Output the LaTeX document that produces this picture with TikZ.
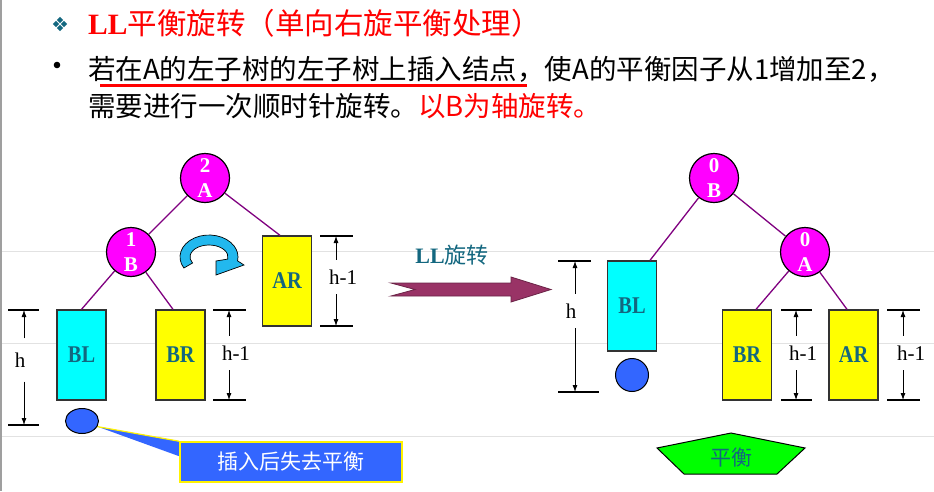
\documentclass[tikz,border=0pt]{standalone}
\usepackage{fontspec}
\setmainfont{Liberation Serif}
\newfontfamily\cjk{Noto Sans CJK SC}
\newfontfamily\lblfont[FakeStretch=0.85]{Liberation Serif}
\usetikzlibrary{shapes.geometric, arrows.meta, calc, backgrounds}
\definecolor{edgepurple}{HTML}{800080}
\definecolor{nodemag}{HTML}{FF00FF}
\definecolor{lbltxt}{HTML}{13677F}
\definecolor{subcyan}{HTML}{00FFFF}
\definecolor{subyel}{HTML}{FFFF00}
\definecolor{insblue}{HTML}{3366FF}
\definecolor{rotblue}{HTML}{22B8EE}
\definecolor{bigarrow}{HTML}{993366}
\definecolor{balgreen}{HTML}{00FF00}
\definecolor{gridgray}{HTML}{E2E2E2}

\begin{document}
\begin{tikzpicture}[x=1pt, y=-1pt,
  tnode/.style={circle, draw=black, line width=1.2pt, fill=nodemag, minimum size=49pt, inner sep=0pt, align=center, text=white, font=\rmfamily\bfseries\fontsize{21}{25}\selectfont},
  subtree/.style={draw=black!80, line width=1.3pt, minimum width=49pt, minimum height=90pt, inner sep=0pt, text=lbltxt, font=\lblfont\bfseries\fontsize{24}{26}\selectfont},
  tline/.style={edgepurple, line width=1.3pt},
  dimlbl/.style={inner sep=0pt, minimum height=34pt, font=\rmfamily\fontsize{21}{24}\selectfont},
  dimarr/.style={-{Latex[length=7pt,width=5pt]}, line width=0.8pt},
  dimtick/.style={line width=1.2pt},
  txt/.style={inner sep=0pt, anchor=west, font=\cjk\fontsize{27.5}{33}\selectfont}
]
\useasboundingbox (0,0) rectangle (934,491);

\foreach \dx/\dy in {-4/0, 4/0, 0/-4, 0/4}
  \fill[lbltxt] (60+\dx,24+\dy) +(0,-3.2) -- +(3.2,0) -- +(0,3.2) -- +(-3.2,0) -- cycle;
\node[txt, text=red, font=\cjk\fontsize{29.5}{34}\selectfont] (ttl) at (88,23) {{\rmfamily\bfseries LL}平衡旋转（单向右旋平衡处理）};
\fill (57,65) circle (3.3);
\node[txt] (ln1) at (88,69) {若在A的左子树的左子树上插入结点，使A的平衡因子从1增加至2，};
\node[txt] (ln2) at (88,106) {需要进行一次顺时针旋转。\textcolor{red}{以B为轴旋转。}};
\draw[red, line width=3pt] (100,85) -- (527,85);

\node[tnode] (a1) at (205,178) {2\\A};
\node[tnode] (b1) at (131,252) {1\\B};
\node[subtree, fill=subcyan] (bl1) at (81.5,355) {BL};
\node[subtree, fill=subyel] (br1) at (180.5,355) {BR};
\node[subtree, fill=subyel] (ar1) at (287,281) {AR};
\draw[tline] (a1) -- (b1);
\draw[tline] (a1) -- ([xshift=-7pt]ar1.north);
\draw[tline] (b1) -- (bl1.north);
\draw[tline] (b1) -- ([xshift=-7.5pt]br1.north);
\node[ellipse, draw=black, line width=1pt, fill=insblue, minimum width=33pt, minimum height=25pt] (ins1) at (82,421) {};
\node[draw=yellow, line width=1.5pt, fill=insblue, minimum width=222pt, minimum height=40pt, text=white, font=\cjk\fontsize{21}{24}\selectfont] (cal) at (291,462) {插入后失去平衡};

\coordinate (rc) at (209,257);
\filldraw[fill=rotblue, draw=black, line width=0.7pt]
  ($(rc)+(-210:29 and 22)$) arc[start angle=-210, end angle=10, x radius=29, y radius=22]
  -- (244,265) -- (216,275) -- (216,261)
  -- ($(rc)+(10:19 and 12)$) arc[start angle=10, end angle=-210, x radius=19, y radius=12] -- cycle;

\node[dimlbl, minimum height=43pt] (d1) at (20,360) {h};
\coordinate (d1t) at (24,310); \coordinate (d1b) at (24,425);
\draw[dimtick] (8,310) -- (39,310); \draw[dimtick, line width=2pt] (8,425) -- (39,425);
\draw[dimarr] (d1.north -| d1t) -- (d1t); \draw[dimarr] (d1.south -| d1b) -- (d1b);
\node[dimlbl] (d2) at (236,353) {h-1};
\coordinate (d2t) at (229,310); \coordinate (d2b) at (229,400);
\draw[dimtick] (213,310) -- (246,310); \draw[dimtick] (213,400) -- (246,400);
\draw[dimarr] (d2.north -| d2t) -- (d2t); \draw[dimarr] (d2.south -| d2b) -- (d2b);
\node[dimlbl] (d3) at (343,277) {h-1};
\coordinate (d3t) at (336,236); \coordinate (d3b) at (336,326);
\draw[dimtick] (320,236) -- (353,236); \draw[dimtick] (320,326) -- (353,326);
\draw[dimarr] (d3.north -| d3t) -- (d3t); \draw[dimarr] (d3.south -| d3b) -- (d3b);

\draw[fill=bigarrow, draw=bigarrow!70!black, line width=0.8pt] (391,283) -- (511,283) -- (511,277) -- (551,289.5) -- (511,302) -- (511,296) -- (391,296) -- (415,289.5) -- cycle;
\node[text=lbltxt, font=\cjk\fontsize{22}{26}\selectfont] (llrot) at (452,255) {{\rmfamily\bfseries LL}旋转};

\node[tnode] (b2) at (714,178) {0\\B};
\node[tnode] (a2) at (805,252) {0\\A};
\node[subtree, fill=subcyan] (bl2) at (632,306) {BL};
\node[subtree, fill=subyel] (br2) at (747,355) {BR};
\node[subtree, fill=subyel] (ar2) at (853.5,355) {AR};
\draw[tline] (b2) -- ([xshift=18pt]bl2.north);
\draw[tline] (b2) -- (a2);
\draw[tline] (a2) -- ([xshift=9pt]br2.north);
\draw[tline] (a2) -- ([xshift=-6.5pt]ar2.north);
\node[circle, draw=black, line width=1pt, fill=insblue, minimum size=33pt] (ins2) at (632,375) {};

\node[dimlbl] (d4) at (571,311) {h};
\coordinate (d4t) at (575,261); \coordinate (d4b) at (575,392);
\draw[dimtick] (558,261) -- (591,261); \draw[dimtick, line width=2pt] (558,392) -- (599,392);
\draw[dimarr] (d4.north -| d4t) -- (d4t); \draw[dimarr] (d4.south -| d4b) -- (d4b);
\node[dimlbl] (d5) at (803,353) {h-1};
\coordinate (d5t) at (796,310); \coordinate (d5b) at (796,400);
\draw[dimtick] (781,310) -- (812,310); \draw[dimtick] (781,400) -- (812,400);
\draw[dimarr] (d5.north -| d5t) -- (d5t); \draw[dimarr] (d5.south -| d5b) -- (d5b);
\node[dimlbl] (d6) at (911,353) {h-1};
\coordinate (d6t) at (903,310); \coordinate (d6b) at (903,400);
\draw[dimtick] (887,310) -- (920,310); \draw[dimtick] (887,400) -- (920,400);
\draw[dimarr] (d6.north -| d6t) -- (d6t); \draw[dimarr] (d6.south -| d6b) -- (d6b);

\draw[fill=balgreen, line width=1pt] (731,433) -- (805,448) -- (777,474) -- (684,474) -- (657,448) -- cycle;
\node[text=lbltxt, font=\cjk\fontsize{21}{24}\selectfont] (bal) at (731,458) {平衡};

\begin{scope}[on background layer]
\fill[white] (0,0) rectangle (934,491);
\foreach \gy in {251,343,436} \draw[gridgray, line width=0.8pt] (0,\gy) -- (934,\gy);
\draw[gray!75, line width=2pt] (1,0) -- (1,491);
\fill[insblue] (ins1.-20) -- (cal.north west) -- ($(cal.north west)+(0,15)$) -- cycle;
\draw[yellow, line width=1.2pt] (ins1.-20) -- (cal.north west);
\end{scope}
\end{tikzpicture}
\end{document}
